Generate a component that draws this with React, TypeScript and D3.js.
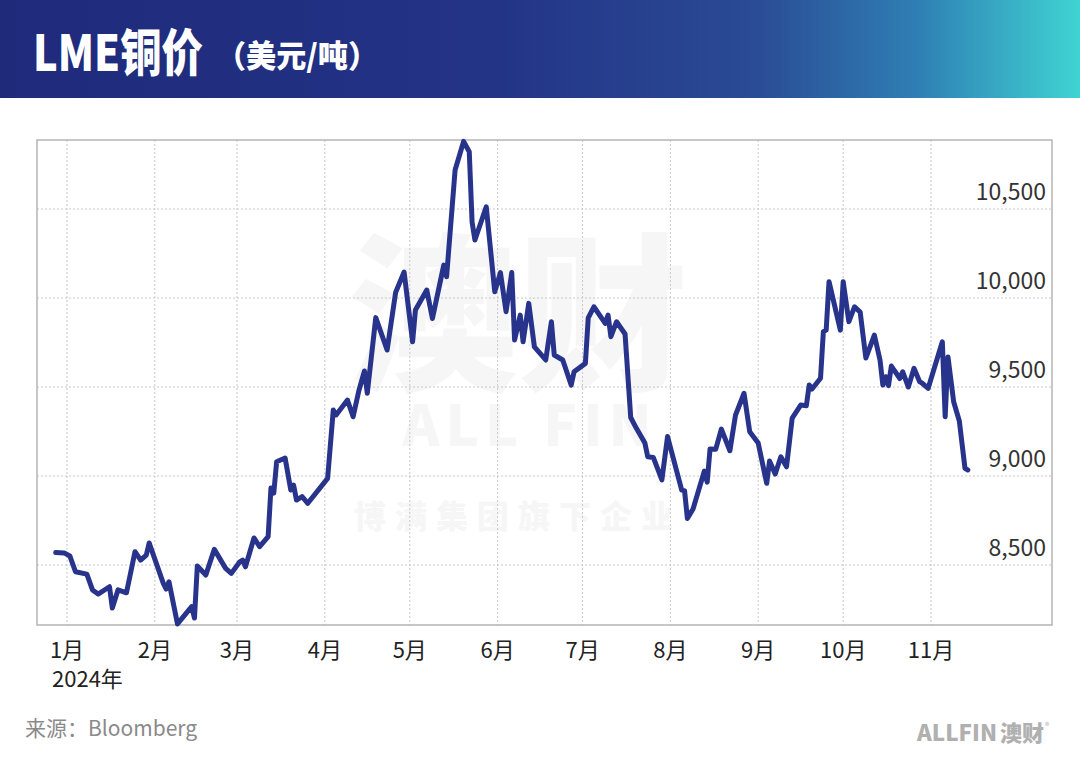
import React from "react";
import * as d3 from "d3";

const dates = [
  "2023-12-28","2023-12-31","2024-01-02","2024-01-04","2024-01-08","2024-01-10","2024-01-12","2024-01-16","2024-01-17","2024-01-19",
  "2024-01-22","2024-01-25","2024-01-27","2024-01-29","2024-01-30","2024-02-04","2024-02-05","2024-02-06","2024-02-09","2024-02-14",
  "2024-02-15","2024-02-16","2024-02-19","2024-02-22","2024-02-26","2024-02-28","2024-03-02","2024-03-03","2024-03-04","2024-03-07",
  "2024-03-09","2024-03-12","2024-03-13","2024-03-14","2024-03-15","2024-03-18","2024-03-20","2024-03-21","2024-03-22","2024-03-24",
  "2024-03-26","2024-04-02","2024-04-04","2024-04-05","2024-04-09","2024-04-11","2024-04-13","2024-04-15","2024-04-16","2024-04-19",
  "2024-04-23","2024-04-26","2024-04-29","2024-05-02","2024-05-03","2024-05-07","2024-05-09","2024-05-13","2024-05-14","2024-05-17",
  "2024-05-20","2024-05-22","2024-05-23","2024-05-24","2024-05-28","2024-05-31","2024-06-02","2024-06-04","2024-06-06","2024-06-07",
  "2024-06-09","2024-06-10","2024-06-12","2024-06-14","2024-06-18","2024-06-20","2024-06-21","2024-06-24","2024-06-27","2024-06-28",
  "2024-07-02","2024-07-03","2024-07-05","2024-07-09","2024-07-10","2024-07-11","2024-07-13","2024-07-16","2024-07-18","2024-07-20",
  "2024-07-23","2024-07-24","2024-07-26","2024-07-29","2024-07-31","2024-08-05","2024-08-06","2024-08-07","2024-08-09","2024-08-13",
  "2024-08-14","2024-08-15","2024-08-17","2024-08-19","2024-08-22","2024-08-24","2024-08-27","2024-08-29","2024-09-01","2024-09-04",
  "2024-09-05","2024-09-07","2024-09-09","2024-09-11","2024-09-13","2024-09-16","2024-09-18","2024-09-19","2024-09-20","2024-09-23",
  "2024-09-24","2024-09-25","2024-09-26","2024-09-30","2024-10-01","2024-10-03","2024-10-05","2024-10-07","2024-10-09","2024-10-12",
  "2024-10-14","2024-10-15","2024-10-16","2024-10-17","2024-10-18","2024-10-21","2024-10-22","2024-10-24","2024-10-26","2024-10-28",
  "2024-10-29","2024-10-31","2024-11-05","2024-11-06","2024-11-07","2024-11-09","2024-11-11","2024-11-13","2024-11-14",
];

const prices = [
  8570, 8568, 8551, 8462, 8449, 8360, 8337, 8378, 8258, 8360,
  8344, 8575, 8528, 8556, 8624, 8397, 8365, 8406, 8169, 8266,
  8202, 8494, 8444, 8588, 8481, 8453, 8518, 8528, 8490, 8652,
  8603, 8659, 8933, 8904, 9080, 9101, 8921, 8949, 8865, 8884,
  8847, 8987, 9371, 9343, 9427, 9333, 9478, 9590, 9465, 9890,
  9708, 10031, 10146, 9754, 9933, 10045, 9885, 10185, 10120, 10719,
  10880, 10822, 10427, 10326, 10513, 10035, 10143, 9923, 10143, 9764,
  9904, 9754, 9970, 9726, 9652, 9867, 9680, 9652, 9511, 9586,
  9633, 9888, 9951, 9858, 9904, 9783, 9867, 9798, 9329, 9268,
  9185, 9108, 9104, 8978, 9222, 8921, 8918, 8762, 8815, 9028,
  8966, 9152, 9150, 9264, 9142, 9343, 9465, 9249, 9185, 8959,
  9084, 9011, 9108, 9052, 9326, 9399, 9395, 9511, 9489, 9549,
  9811, 9820, 10092, 9820, 10092, 9867, 9951, 9921, 9663, 9792,
  9652, 9511, 9558, 9508, 9618, 9548, 9586, 9500, 9605, 9530,
  9520, 9493, 9754, 9333, 9669, 9417, 9309, 9043, 9034,
];

const monthLabels = ["1月","2月","3月","4月","5月","6月","7月","8月","9月","10月","11月"];
const yearLabel = "2024年";
const yTicks = [8500, 9000, 9500, 10000, 10500];
const titleText = "LME铜价";
const titleUnit = "（美元/吨）";
const sourceText = "来源：Bloomberg";

const W = 1080;
const H = 767;
const frame = { left: 37, right: 1052, top: 140, bottom: 625 };

export default function App() {
  const parse = d3.timeParse("%Y-%m-%d");
  const data = dates.map((d, i) => ({ date: parse(d) as Date, value: prices[i] }));

  const x = d3
    .scaleTime()
    .domain([new Date(2024, 0, 1), new Date(2024, 10, 1)])
    .range([67, 931]);
  const y = d3.scaleLinear().domain([8163, 10888]).range([frame.bottom, frame.top]);

  const monthDates = monthLabels.map((_, i) => new Date(2024, i, 1));
  const line = d3
    .line<{ date: Date; value: number }>()
    .x((d) => x(d.date))
    .y((d) => y(d.value));

  const cn = "'Noto Sans CJK SC', 'Noto Sans', sans-serif";
  const fmt = d3.format(",");

  return (
    <svg
      width={W}
      height={H}
      viewBox={`0 0 ${W} ${H}`}
      style={{ position: "fixed", left: 0, top: 0, background: "#fff" }}
    >
      <defs>
        <linearGradient id="hdr" x1="0" y1="0" x2="1" y2="0">
          <stop offset="0%" stopColor="#1f2a7b" />
          <stop offset="45%" stopColor="#233386" />
          <stop offset="70%" stopColor="#2a4b95" />
          <stop offset="85%" stopColor="#2f7fb4" />
          <stop offset="100%" stopColor="#3fd4d2" />
        </linearGradient>
      </defs>
      <rect x={0} y={0} width={W} height={H} fill="#fff" />
      <rect x={0} y={0} width={W} height={98} fill="url(#hdr)" />
      <text fill="#fff" fontFamily={cn} fontWeight={900}>
        <tspan x={33} y={71} fontSize={50} textLength={170} lengthAdjust="spacingAndGlyphs">{titleText}</tspan>
        <tspan x={216} y={67} fontSize={31} textLength={162} lengthAdjust="spacingAndGlyphs">{titleUnit}</tspan>
      </text>

      {/* watermark */}
      <text fill="#f6f6f6" fontFamily={cn} fontWeight={900} textAnchor="middle">
        <tspan x={518} y={378} fontSize={170}>澳财</tspan>
        <tspan x={530} y={446} fontSize={56} letterSpacing={6}>ALL FIN</tspan>
        <tspan x={518} y={528} fontSize={32} letterSpacing={9}>博满集团旗下企业</tspan>
      </text>

      {/* grid */}
      <g stroke="#c8c8c8" strokeWidth={1} strokeDasharray="2,2">
        {yTicks.map((t) => (
          <line key={t} x1={frame.left} x2={frame.right} y1={y(t)} y2={y(t)} />
        ))}
        {monthDates.map((d, i) => (
          <line key={i} x1={x(d)} x2={x(d)} y1={frame.top} y2={frame.bottom} />
        ))}
      </g>
      <rect
        x={frame.left}
        y={frame.top}
        width={frame.right - frame.left}
        height={frame.bottom - frame.top}
        fill="none"
        stroke="#b5b5b5"
        strokeWidth={1.5}
      />

      {/* y labels */}
      <g fontFamily={cn} fontSize={23} fill="#333" textAnchor="end">
        {yTicks.map((t) => (
          <text key={t} x={1046} y={y(t) - 9}>{fmt(t)}</text>
        ))}
      </g>

      {/* line */}
      <path d={line(data) || ""} fill="none" stroke="#28338c" strokeWidth={5} strokeLinejoin="round" strokeLinecap="round" />

      {/* x labels */}
      <g fontFamily={cn} fontSize={22} fill="#222">
        {monthDates.map((d, i) =>
          i === 0 ? (
            <text key={i}>
              <tspan x={x(d)} y={658} textAnchor="middle">{monthLabels[i]}</tspan>
              <tspan x={52} y={687} textAnchor="start">{yearLabel}</tspan>
            </text>
          ) : (
            <text key={i} x={x(d)} y={658} textAnchor="middle">{monthLabels[i]}</text>
          )
        )}
      </g>

      {/* footer */}
      <text x={25} y={736} fontFamily={cn} fontSize={21} fill="#8a8a8a">{sourceText}</text>
      <text x={917} y={741} fontFamily={cn} fontWeight={900} fontSize={22} fill="#b0b0b0" textLength={80} lengthAdjust="spacingAndGlyphs">ALLFIN</text>
      <text x={1000} y={741} fontFamily={cn} fontWeight={900} fontSize={22} fill="#b0b0b0">澳财</text>
      <text x={1045} y={729} fontFamily={cn} fontSize={9} fill="#b0b0b0">®</text>
    </svg>
  );
}
